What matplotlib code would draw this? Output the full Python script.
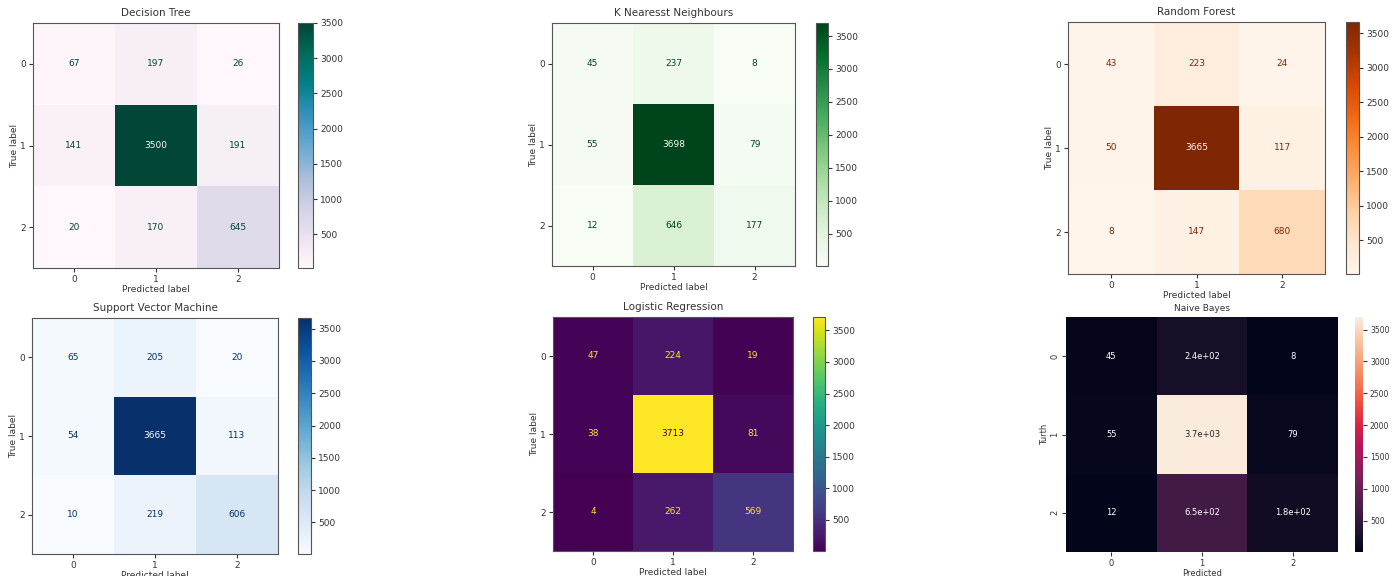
import numpy as np
import matplotlib
matplotlib.use("Agg")
import matplotlib.pyplot as plt
import seaborn as sns

labels = ["0", "1", "2"]

cm_dt = [[67, 197, 26], [141, 3500, 191], [20, 170, 645]]
cm_knn = [[45, 237, 8], [55, 3698, 79], [12, 646, 177]]
cm_rf = [[43, 223, 24], [50, 3665, 117], [8, 147, 680]]
cm_svm = [[65, 205, 20], [54, 3665, 113], [10, 219, 606]]
cm_lr = [[47, 224, 19], [38, 3713, 81], [4, 262, 569]]
cm_nb = [[45, 237, 8], [55, 3698, 79], [12, 646, 177]]

W, H = 1392, 576
fig = plt.figure(figsize=(W / 100, H / 100), dpi=100)
fs = 6.5


def box(x0, y0, x1, y1):
    # pixel box -> figure fraction
    return [x0 / W, 1 - y1 / H, (x1 - x0) / W, (y1 - y0) / H]


def sk_matrix(cm, title, cmap, ax_px, cb_px):
    cm = np.array(cm)
    ax = fig.add_axes(box(*ax_px))
    cax = fig.add_axes(box(*cb_px))
    cmap = plt.get_cmap(cmap)
    im = ax.imshow(cm, cmap=cmap, interpolation="nearest", aspect="auto")
    thresh = (cm.max() + cm.min()) / 2.0
    for i in range(3):
        for j in range(3):
            c = cmap(1.0) if cm[i, j] < thresh else cmap(0)
            ax.text(j, i, str(cm[i, j]), ha="center", va="center", color=c, fontsize=fs)
    ax.set_xticks(range(3), labels, fontsize=fs)
    ax.set_yticks(range(3), labels, fontsize=fs)
    ax.tick_params(pad=2, length=3, colors="#333333")
    ax.set_xlabel("Predicted label", fontsize=fs, labelpad=1, color="#333333")
    ax.set_ylabel("True label", fontsize=fs, labelpad=1, color="#333333")
    ax.set_title(title, fontsize=7.5, pad=5, color="#333333")
    for s in ax.spines.values():
        s.set_edgecolor("#555555")
    cb = fig.colorbar(im, cax=cax)
    cb.set_ticks([500, 1000, 1500, 2000, 2500, 3000, 3500])
    cb.ax.tick_params(labelsize=fs, pad=2, length=3, colors="#333333")
    cb.outline.set_edgecolor("#555555")
    return ax


sk_matrix(cm_dt, "Decision Tree", "PuBuGn", (33, 23, 279, 268), (298, 23, 313, 268))
sk_matrix(cm_knn, "K Nearesst Neighbours", "Greens", (552, 23, 795, 266), (816, 23, 828, 266))
sk_matrix(cm_rf, "Random Forest", "Oranges", (1068, 22, 1325, 274), (1346, 22, 1359, 274))
sk_matrix(cm_svm, "Support Vector Machine", "Blues", (32, 318, 278, 554), (298, 318, 311, 554))
sk_matrix(cm_lr, "Logistic Regression", "viridis", (553, 317, 793, 551), (813, 317, 825, 551))

# Naive Bayes drawn with seaborn heatmap
ax_nb = fig.add_axes(box(1066, 317, 1338, 552))
cax_nb = fig.add_axes(box(1355, 317, 1363, 552))
sns.heatmap(np.array(cm_nb), annot=True, ax=ax_nb, cbar_ax=cax_nb,
            annot_kws={"fontsize": 6})
ax_nb.set_xticklabels(labels, fontsize=6)
ax_nb.set_yticklabels(labels, fontsize=6, rotation=90, va="center")
ax_nb.tick_params(pad=2, length=3, colors="#333333")
ax_nb.set_xlabel("Predicted", fontsize=6, labelpad=1, color="#333333")
ax_nb.set_ylabel("Turth", fontsize=6, labelpad=1, color="#333333")
ax_nb.set_title("Naive Bayes", fontsize=6.5, pad=4, color="#333333")
cax_nb.set_yticks([500, 1000, 1500, 2000, 2500, 3000, 3500])
cax_nb.tick_params(labelsize=5.5, pad=2, length=3, colors="#333333")

fig.savefig("out.png", dpi=100)
